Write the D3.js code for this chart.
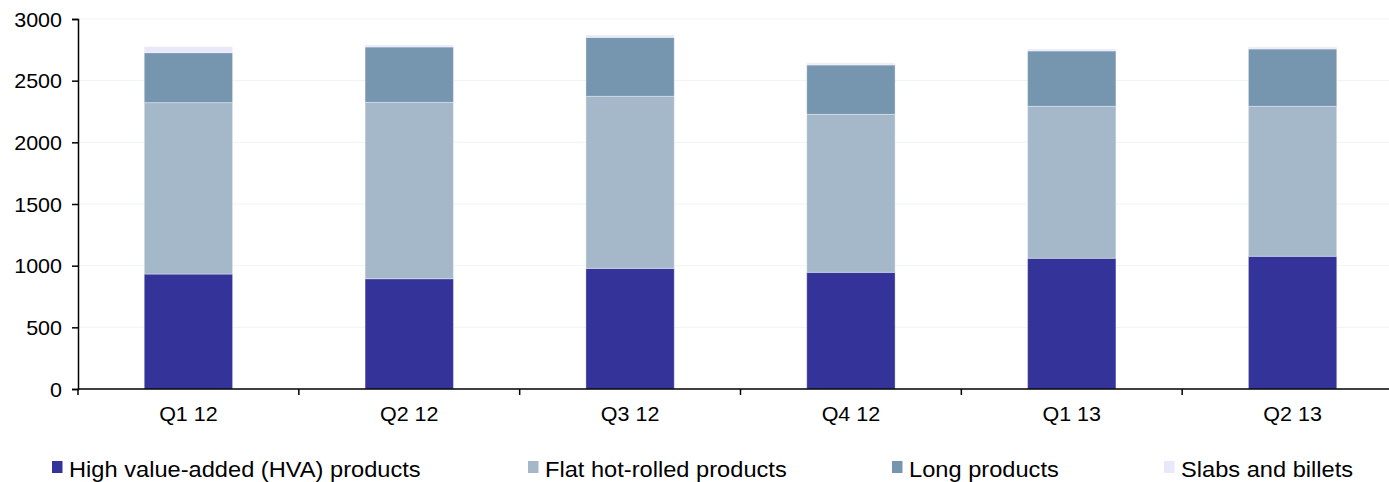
<!DOCTYPE html>
<html>
<head>
<meta charset="utf-8">
<script src="https://cdn.jsdelivr.net/npm/d3@7"></script>
<style>
  html, body { margin: 0; padding: 0; background: #fff; }
  svg { display: block; }
  text { font-family: "Liberation Sans", Arial, sans-serif; fill: #000; }
</style>
</head>
<body>
<svg id="chart" width="1389" height="482"></svg>
<script>
// Quarterly shipments by product group (thousand tonnes)
const quarters = ["Q1 12", "Q2 12", "Q3 12", "Q4 12", "Q1 13", "Q2 13"];
const hva   = [932, 894, 978, 946, 1060, 1076];
const flat  = [1390, 1430, 1395, 1281, 1232, 1216];
const long  = [405, 449, 478, 400, 449, 465];
const slabs = [49, 16, 19, 16, 16, 16];
const seriesNames = [
  "High value-added (HVA) products",
  "Flat hot-rolled products",
  "Long products",
  "Slabs and billets"
];
const yTicks = [0, 500, 1000, 1500, 2000, 2500, 3000];

const colors = ["#333399", "#a5b8ca", "#7696b0", "#e8e8fa"];
const stretch = 1.075; // horizontal text stretch

const svg = d3.select("#chart");

const x = d3.scaleBand().domain(quarters).range([78, 1403]).paddingInner(0).paddingOuter(0);
const y = d3.scaleLinear().domain([0, 3000]).range([389, 19]);

// table for the stack layout
const keys = ["hva", "flat", "long", "slabs"];
const rows = quarters.map((q, i) => ({ q, hva: hva[i], flat: flat[i], long: long[i], slabs: slabs[i] }));
const stacked = d3.stack().keys(keys)(rows);

// gridlines
svg.append("g")
  .selectAll("line")
  .data(yTicks.filter(d => d > 0))
  .join("line")
  .attr("x1", 78).attr("x2", 1403)
  .attr("y1", d => y(d)).attr("y2", d => y(d))
  .attr("stroke", "#eef4f2").attr("stroke-width", 1);

// bars
const barW = x.bandwidth() * 0.4;
svg.append("g")
  .selectAll("g")
  .data(stacked)
  .join("g")
  .attr("fill", (d, i) => colors[i])
  .selectAll("rect")
  .data(d => d)
  .join("rect")
  .attr("x", d => x(d.data.q) + (x.bandwidth() - barW) / 2)
  .attr("width", barW)
  .attr("y", d => y(d[1]))
  .attr("height", d => y(d[0]) - y(d[1]))
  .attr("stroke", "rgba(255,255,255,0.35)")
  .attr("stroke-width", 1);

// y axis
const yAxis = svg.append("g").attr("transform", "translate(78,0)")
  .call(d3.axisLeft(y).tickValues(yTicks).tickSize(6).tickPadding(10).tickFormat(d3.format("d")));
yAxis.select(".domain").attr("stroke", "#000").attr("stroke-width", 1.5);
yAxis.selectAll(".tick line").attr("stroke", "#000").attr("stroke-width", 1.5);
yAxis.selectAll(".tick text")
  .attr("font-size", 20)
  .attr("font-family", "Liberation Sans, Arial, sans-serif")
  .attr("fill", "#000")
  .attr("dy", "0.35em")
  .each(function() {
    const t = d3.select(this);
    const xx = +t.attr("x");
    t.attr("x", 0).attr("transform", `translate(${xx},0) scale(${stretch},1)`);
  });

// x axis: ticks sit on the category boundaries
const xAxisG = svg.append("g").attr("transform", "translate(0,389)");
xAxisG.append("line").attr("x1", 78).attr("x2", 1403).attr("y1", 0).attr("y2", 0)
  .attr("stroke", "#000").attr("stroke-width", 1.5);
const bounds = quarters.map(q => x(q)).concat([x(quarters[quarters.length - 1]) + x.bandwidth()]);
xAxisG.selectAll("line.tk").data(bounds).join("line").attr("class", "tk")
  .attr("x1", d => d).attr("x2", d => d).attr("y1", 0).attr("y2", 6)
  .attr("stroke", "#000").attr("stroke-width", 1.5);
xAxisG.selectAll("text").data(quarters).join("text")
  .attr("transform", d => `translate(${x(d) + x.bandwidth() / 2},32) scale(${stretch},1)`)
  .attr("text-anchor", "middle")
  .attr("font-size", 20)
  .text(d => d);

// legend
const legendX = [52, 528, 892, 1164];
const lg = svg.append("g").selectAll("g").data(seriesNames).join("g")
  .attr("transform", (d, i) => `translate(${legendX[i]},0)`);
lg.append("rect").attr("x", 0).attr("y", 461).attr("width", 10.5).attr("height", 12)
  .attr("fill", (d, i) => colors[i]);
lg.append("text")
  .attr("transform", `translate(17,477) scale(${stretch},1)`)
  .attr("font-size", 22)
  .text(d => d);
</script>
</body>
</html>
